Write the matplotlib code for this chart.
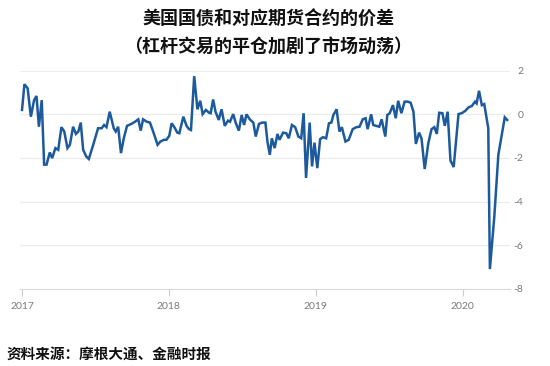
import matplotlib
matplotlib.use('Agg')
import matplotlib.pyplot as plt
import pandas as pd

plt.rcParams['font.family'] = ['Noto Sans CJK SC', 'DejaVu Sans']

# spread between US treasuries and their futures
dates = [
    '2017-01-01', '2017-01-07', '2017-01-15', '2017-01-23', '2017-01-31', '2017-02-06',
    '2017-02-12', '2017-02-19', '2017-02-25', '2017-03-03', '2017-03-11', '2017-03-17',
    '2017-03-25', '2017-04-01', '2017-04-09', '2017-04-16', '2017-04-24', '2017-04-30',
    '2017-05-08', '2017-05-15', '2017-05-21', '2017-05-27', '2017-06-02', '2017-06-10',
    '2017-06-16', '2017-06-27', '2017-07-09', '2017-07-18', '2017-07-24', '2017-07-30',
    '2017-08-07', '2017-08-17', '2017-08-22', '2017-08-28', '2017-09-04', '2017-09-11',
    '2017-09-19', '2017-09-30', '2017-10-09', '2017-10-17', '2017-10-23', '2017-10-29',
    '2017-11-07', '2017-11-15', '2017-11-23', '2017-12-04', '2017-12-11', '2017-12-20',
    '2017-12-26', '2018-01-02', '2018-01-08', '2018-01-14', '2018-01-22', '2018-01-27',
    '2018-02-06', '2018-02-14', '2018-02-20', '2018-02-25', '2018-03-05', '2018-03-13',
    '2018-03-20', '2018-03-26', '2018-04-03', '2018-04-11', '2018-04-15', '2018-04-21',
    '2018-04-27', '2018-05-05', '2018-05-12', '2018-05-20', '2018-05-28', '2018-06-02',
    '2018-06-10', '2018-06-16', '2018-06-24', '2018-07-01', '2018-07-07', '2018-07-13',
    '2018-07-21', '2018-07-30', '2018-08-05', '2018-08-13', '2018-08-21', '2018-08-29',
    '2018-09-03', '2018-09-09', '2018-09-14', '2018-09-21', '2018-09-28', '2018-10-03',
    '2018-10-12', '2018-10-20', '2018-10-26', '2018-11-03', '2018-11-11', '2018-11-19',
    '2018-11-26', '2018-12-02', '2018-12-08', '2018-12-17', '2018-12-23', '2018-12-29',
    '2019-01-05', '2019-01-12', '2019-01-19', '2019-01-27', '2019-02-03', '2019-02-09',
    '2019-02-14', '2019-02-22', '2019-03-01', '2019-03-07', '2019-03-16', '2019-03-24',
    '2019-04-03', '2019-04-12', '2019-04-20', '2019-04-28', '2019-05-05', '2019-05-10',
    '2019-05-19', '2019-05-24', '2019-06-01', '2019-06-08', '2019-06-14', '2019-06-23',
    '2019-06-28', '2019-07-04', '2019-07-12', '2019-07-19', '2019-07-25', '2019-08-02',
    '2019-08-10', '2019-08-18', '2019-08-25', '2019-09-01', '2019-09-07', '2019-09-15',
    '2019-09-21', '2019-09-29', '2019-10-08', '2019-10-16', '2019-10-23', '2019-10-29',
    '2019-11-04', '2019-11-12', '2019-11-18', '2019-11-25', '2019-12-02', '2019-12-10',
    '2019-12-22', '2019-12-30', '2020-01-08', '2020-01-16', '2020-01-24', '2020-02-01',
    '2020-02-05', '2020-02-11', '2020-02-18', '2020-02-24', '2020-03-05', '2020-03-09',
    '2020-03-20', '2020-03-30', '2020-04-15', '2020-04-21',
]
spread = [
    0.2, 1.38, 1.19, -0.11, 0.65, 0.84,
    -0.57, 0.65, -2.31, -2.31, -1.75, -2.01,
    -1.55, -1.63, -0.59, -0.79, -1.55, -1.4,
    -0.57, -0.9, -0.79, -0.38, -1.63, -1.94,
    -2.05, -1.4, -0.64, -0.64, -0.49, -0.59,
    0.12, -0.64, -0.79, -0.57, -1.78, -1.1,
    -0.53, -0.44, -0.34, -0.23, -0.75, -0.23,
    -0.34, -0.38, -0.79, -1.4, -1.25, -1.17,
    -1.17, -0.99, -0.41, -0.57, -0.84, -0.87,
    -0.11, -0.53, -0.68, -0.72, 1.75, 0.23,
    0.62, 0.01, 0.2, 0.07, 0.05, 0.68,
    0.12, -0.26, 0.23, -0.53, -0.29, -0.34,
    0.01, -0.38, -0.75, -0.03, -0.49, 0.0,
    -0.23, -0.38, -1.02, -0.44, -0.38, -0.38,
    -1.25, -1.86, -1.1, -1.55, -0.9, -1.17,
    -0.84, -0.87, -1.1, -0.49, -0.59, -1.02,
    -1.1, 0.05, -2.92, -0.38, -2.39, -1.3,
    -2.47, -1.14, -1.05, -1.1, -0.41, -0.38,
    -0.03, 0.23, -0.79, -0.59, -1.25, -1.17,
    -0.68, -0.59, -0.57, -0.23, -0.18, -0.68,
    0.0, -0.49, -0.53, -0.57, -0.23, -1.02,
    -0.03, 0.05, 0.42, -0.18, 0.62, 0.05,
    0.58, 0.58, 0.53, 0.12, -1.36, -0.84,
    -1.1, -2.51, -1.32, -0.68, -0.59, -0.9,
    0.07, 0.05, -0.53, 0.12, -2.12, -2.42,
    0.01, 0.05, 0.16, 0.32, 0.38, 0.58,
    0.5, 1.08, 0.42, 0.47, -0.64, -7.1,
    -4.7, -1.86, -0.14, -0.26,
]

y_ticks = [2, 0, -2, -4, -6, -8]
year_ticks = ['2017', '2018', '2019', '2020']

title = '美国国债和对应期货合约的价差\n（杠杆交易的平仓加剧了市场动荡）'
source = '资料来源：摩根大通、金融时报'

x = pd.to_datetime(dates)

fig = plt.figure(figsize=(5.5, 3.66), dpi=100)
ax = fig.add_axes([20 / 550, 1 - 288.7 / 366, 490 / 550, 218 / 366])

ax.plot(x, spread, color='#1c5a9c', linewidth=1.8, solid_joinstyle='miter')

ax.set_ylim(-8, 2)
ax.set_xlim(pd.Timestamp('2016-12-27'), pd.Timestamp('2020-04-28'))

ax.set_yticks(y_ticks)
ax.set_yticklabels([str(v) for v in y_ticks])
ax.yaxis.tick_right()
ax.tick_params(axis='y', length=0, pad=9.5, labelsize=7.5, labelcolor='#7a7a7a')
for lab in ax.get_yticklabels():
    lab.set_horizontalalignment('right')
    lab.set_family(['Lato', 'DejaVu Sans'])

ax.set_xticks(pd.to_datetime([y + '-01-01' for y in year_ticks]))
ax.set_xticklabels(year_ticks)
ax.tick_params(axis='x', length=5, width=0.8, color='#cccccc', pad=4.5,
               labelsize=7.5, labelcolor='#7a7a7a')
for lab in ax.get_xticklabels():
    lab.set_family(['Lato', 'DejaVu Sans'])

ax.grid(axis='y', color='#ebebeb', linewidth=0.8)
ax.set_axisbelow(True)
for side in ['top', 'left', 'right']:
    ax.spines[side].set_visible(False)
ax.spines['bottom'].set_color('#d9d9d9')
ax.spines['bottom'].set_linewidth(0.8)

fig.text(0.488, 0.972, title, ha='center', va='top', fontsize=13,
         fontweight='bold', linespacing=1.55, color='#111111')
fig.text(0.012, 0.012, source, ha='left', va='bottom', fontsize=10.5,
         fontweight='bold', color='#111111')

fig.savefig('out.png', dpi=100)
